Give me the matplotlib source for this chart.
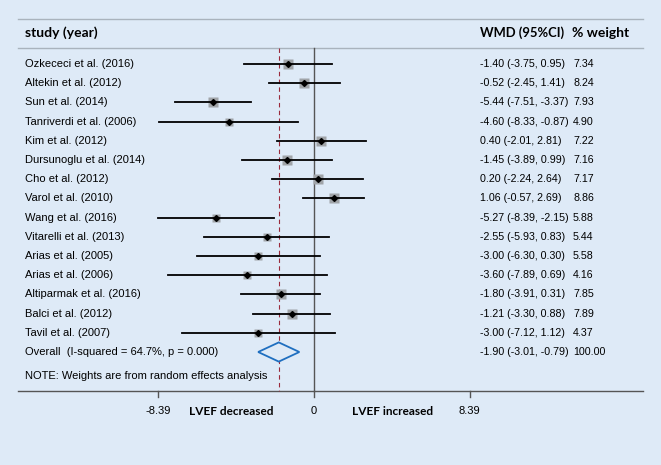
import matplotlib.pyplot as plt
from matplotlib.patches import Polygon

studies = ["Ozkececi et al. (2016)", "Altekin et al. (2012)", "Sun et al. (2014)",
           "Tanriverdi et al. (2006)", "Kim et al. (2012)", "Dursunoglu et al. (2014)",
           "Cho et al. (2012)", "Varol et al. (2010)", "Wang et al. (2016)",
           "Vitarelli et al. (2013)", "Arias et al. (2005)", "Arias et al. (2006)",
           "Altiparmak et al. (2016)", "Balci et al. (2012)", "Tavil et al. (2007)"]
wmd = [-1.40, -0.52, -5.44, -4.60, 0.40, -1.45, 0.20, 1.06, -5.27, -2.55, -3.00, -3.60, -1.80, -1.21, -3.00]
lo = [-3.75, -2.45, -7.51, -8.33, -2.01, -3.89, -2.24, -0.57, -8.39, -5.93, -6.30, -7.89, -3.91, -3.30, -7.12]
hi = [0.95, 1.41, -3.37, -0.87, 2.81, 0.99, 2.64, 2.69, -2.15, 0.83, 0.30, 0.69, 0.31, 0.88, 1.12]
weight = [7.34, 8.24, 7.93, 4.90, 7.22, 7.16, 7.17, 8.86, 5.88, 5.44, 5.58, 4.16, 7.85, 7.89, 4.37]

overall_label = "Overall  (I-squared = 64.7%, p = 0.000)"
overall = (-1.90, -3.01, -0.79)
overall_weight = "100.00"
ticks = [-8.39, 0, 8.39]

bg = "#deeaf7"
body = "Liberation Sans"
bold = "Lato"

fig = plt.figure(figsize=(6.61, 4.65), dpi=100, facecolor=bg)
ax = fig.add_axes([0, 0, 1, 1])
ax.set_facecolor(bg)
ax.axis("off")

ppu = 18.55  # pixels per unit
ax.set_xlim(-314 / ppu, 347 / ppu)
row = 19.2
ax.set_ylim((465 - 64) / row, -64 / row)

def py(p):
    return (p - 64) / row

def px(p):
    return (p - 314) / ppu

n = len(studies)
x_txt = px(25)
x_wmd = px(480)
x_w = px(573)
fs_num = 7.7

# horizontal rules
ax.plot([px(18), px(643)], [py(19), py(19)], color="#a9b3bd", lw=1.0)
ax.plot([px(18), px(643)], [py(48), py(48)], color="#a9b3bd", lw=1.0)
ax.plot([px(18), px(643)], [py(391), py(391)], color="#555555", lw=1.0)

# headers
ax.text(x_txt, py(33), "study (year)", fontsize=10, fontweight="bold", family=bold, va="center")
ax.text(x_wmd, py(33), "WMD (95%CI)", fontsize=9.4, fontweight="bold", family=bold, va="center")
ax.text(px(572), py(33), "% weight", fontsize=10, fontweight="bold", family=bold, va="center")

# reference lines
ax.plot([0, 0], [py(48), py(391)], color="#555555", lw=1.0)
ax.plot([overall[0], overall[0]], [py(48), py(391)], color="#9a2a3c", lw=0.8, ls=(0, (4, 3)))

for i in range(n):
    ax.plot([lo[i], hi[i]], [i, i], color="black", lw=1.3, zorder=3)
    ax.plot(wmd[i], i, marker="s", ms=2.5 * weight[i] ** 0.5, color="#a0a4a8",
            mec="none", zorder=2)
    ax.plot(wmd[i], i, marker="D", ms=3, color="black", zorder=4)
    ax.text(x_txt, i, studies[i], fontsize=8, family=body, va="center")
    ax.text(x_wmd, i, f"{wmd[i]:.2f} ({lo[i]:.2f}, {hi[i]:.2f})", fontsize=fs_num, family=body, va="center")
    ax.text(x_w, i, f"{weight[i]:.2f}", fontsize=fs_num, family=body, va="center")

# overall
yo = n
hh = 0.5
diamond = Polygon([[overall[1], yo], [overall[0], yo - hh], [overall[2], yo], [overall[0], yo + hh]],
                  closed=True, facecolor=bg, edgecolor="#1f6fc0", lw=1.3, zorder=3)
ax.add_patch(diamond)
ax.text(x_txt, yo, overall_label, fontsize=8, family=body, va="center")
ax.text(x_wmd, yo, f"{overall[0]:.2f} ({overall[1]:.2f}, {overall[2]:.2f})", fontsize=fs_num, family=body, va="center")
ax.text(x_w, yo, overall_weight, fontsize=fs_num, family=body, va="center")

ax.text(x_txt, py(376), "NOTE: Weights are from random effects analysis", fontsize=8, family=body, va="center")

# x ticks
for t in ticks:
    ax.plot([t, t], [py(391), py(397)], color="#555555", lw=1.0)
    ax.text(t, py(411), f"{t:g}", fontsize=8, family=body, ha="center", va="center")
ax.text(px(231), py(411), "LVEF decreased", fontsize=8.5, fontweight="bold", family=bold, ha="center", va="center")
ax.text(px(393), py(411), "LVEF increased", fontsize=8.5, fontweight="bold", family=bold, ha="center", va="center")

fig.savefig("out.png", dpi=100, facecolor=bg)
